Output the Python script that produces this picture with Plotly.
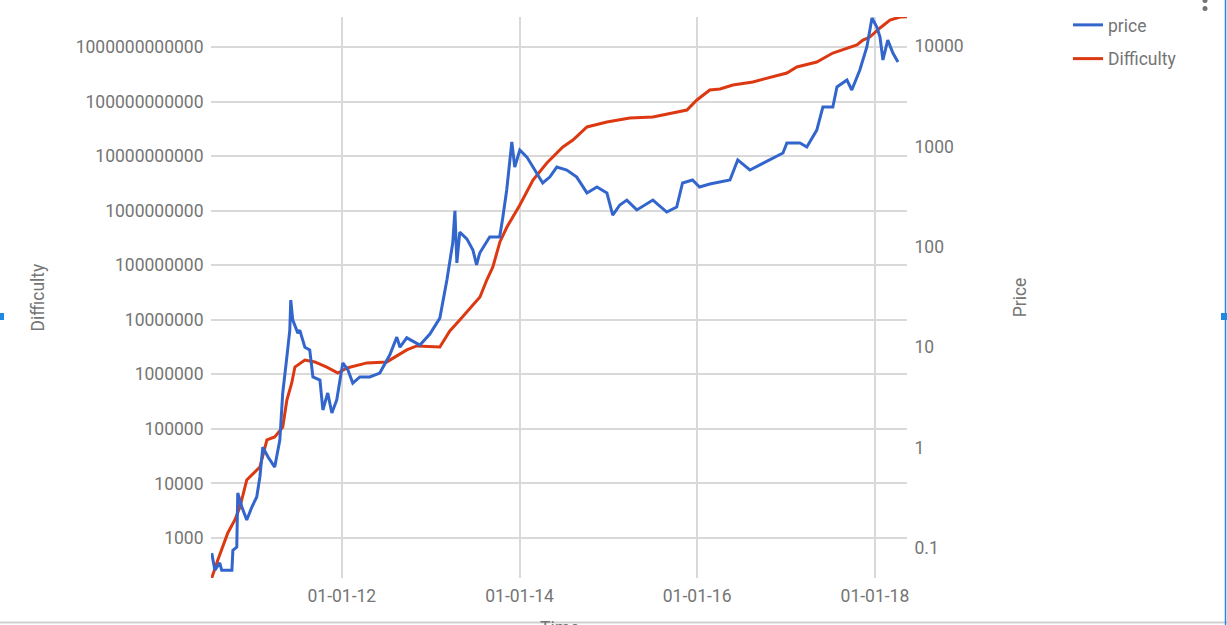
import plotly.graph_objects as go

# ---------------- data ----------------
price_dates = [
    "2010-07-15", "2010-07-28", "2010-08-17", "2010-08-25", "2010-10-06", "2010-10-10",
    "2010-10-26", "2010-10-30", "2010-11-16", "2010-12-06", "2010-12-27", "2011-01-16",
    "2011-01-29", "2011-02-10", "2011-03-03", "2011-03-31", "2011-04-21", "2011-05-03",
    "2011-05-20", "2011-06-01", "2011-06-05", "2011-06-13", "2011-07-04", "2011-07-12",
    "2011-08-02", "2011-08-22", "2011-09-04", "2011-10-03", "2011-10-15", "2011-11-04",
    "2011-11-21", "2011-12-11", "2012-01-05", "2012-01-26", "2012-02-15", "2012-03-15",
    "2012-04-25", "2012-06-05", "2012-07-16", "2012-08-14", "2012-08-27", "2012-09-24",
    "2012-11-17", "2012-12-28", "2013-02-07", "2013-03-08", "2013-04-01", "2013-04-10",
    "2013-04-18", "2013-04-30", "2013-05-29", "2013-06-23", "2013-07-08", "2013-07-21",
    "2013-08-31", "2013-10-11", "2013-10-23", "2013-11-09", "2013-11-30", "2013-12-12",
    "2014-01-02", "2014-01-31", "2014-02-25", "2014-04-06", "2014-05-05", "2014-06-03",
    "2014-07-14", "2014-08-24", "2014-10-05", "2014-11-15", "2014-12-26", "2015-01-19",
    "2015-02-17", "2015-03-18", "2015-04-28", "2015-07-03", "2015-08-29", "2015-10-09",
    "2015-11-02", "2015-12-13", "2016-01-11", "2016-02-22", "2016-05-15", "2016-06-16",
    "2016-08-05", "2016-10-26", "2016-12-19", "2017-01-04", "2017-02-27", "2017-03-27",
    "2017-05-07", "2017-06-01", "2017-07-12", "2017-07-29", "2017-09-08", "2017-09-28",
    "2017-10-31", "2017-11-29", "2017-12-11", "2017-12-20", "2018-01-09", "2018-01-22",
    "2018-02-03", "2018-02-23", "2018-03-16", "2018-04-06",
]
price_values = [
    0.089, 0.060, 0.071, 0.060, 0.060, 0.095,
    0.102, 0.353, 0.256, 0.19, 0.256, 0.322,
    0.51, 1.01, 0.81, 0.64, 1.19, 3.5,
    8.0, 14.8, 29.5, 18.7, 13.8, 14.8,
    10.0, 9.4, 5.05, 4.7, 2.37, 3.5,
    2.21, 2.98, 6.97, 5.93, 4.39, 5.05,
    5.05, 5.53, 8.36, 12.6, 10.0, 12.4,
    10.5, 13.5, 19.5, 46.7, 109, 228,
    69, 140, 120, 93, 66, 86.7,
    125, 125, 189, 368, 1107, 623,
    920, 783, 623, 432, 495, 623,
    582, 495, 344, 394, 344, 207,
    261, 292, 233, 292, 222, 249,
    432, 463, 394, 422, 463, 733,
    582, 733, 859, 1081, 1081, 986,
    1455, 2466, 2466, 3908, 4585, 3645,
    5770, 9775, 14430, 19000, 15460, 12300,
    7260, 11480, 8515, 6926,
]

difficulty_dates = [
    "2010-07-15", "2010-08-09", "2010-09-19", "2010-10-18", "2010-11-08", "2010-12-06",
    "2011-01-29", "2011-02-27", "2011-03-31", "2011-05-03", "2011-05-20", "2011-06-09",
    "2011-06-22", "2011-08-02", "2011-09-12", "2011-10-31", "2011-12-16", "2012-01-22",
    "2012-04-13", "2012-07-04", "2012-09-24", "2012-11-04", "2013-02-07", "2013-03-20",
    "2013-04-30", "2013-06-10", "2013-07-22", "2013-08-19", "2013-09-13", "2013-10-12",
    "2013-11-10", "2014-01-02", "2014-02-25", "2014-04-23", "2014-06-28", "2014-08-08",
    "2014-10-05", "2014-12-26", "2015-03-30", "2015-07-03", "2015-09-23", "2015-11-20",
    "2015-12-31", "2016-02-22", "2016-04-04", "2016-05-27", "2016-08-17", "2016-10-14",
    "2017-01-04", "2017-02-14", "2017-05-07", "2017-07-12", "2017-09-08", "2017-10-19",
    "2017-11-13", "2017-12-11", "2018-01-22", "2018-03-04", "2018-04-14", "2018-05-13",
]
difficulty_values = [
    185, 396, 1240, 2140, 3700, 11600,
    20000, 62700, 71100, 108000, 339000, 695000,
    1.36e6, 1.83e6, 1.69e6, 1.36e6, 1.06e6, 1.31e6,
    1.62e6, 1.69e6, 2.80e6, 3.31e6, 3.18e6, 6.24e6,
    9.9e6, 1.64e7, 2.62e7, 5.36e7, 9.29e7, 2.67e8,
    5.02e8, 1.27e9, 3.65e9, 7.48e9, 1.47e10, 1.97e10,
    3.42e10, 4.22e10, 5.00e10, 5.21e10, 6.17e10, 7.00e10,
    1.07e11, 1.63e11, 1.70e11, 2.01e11, 2.29e11, 2.70e11,
    3.33e11, 4.30e11, 5.31e11, 7.76e11, 9.59e11, 1.09e12,
    1.34e12, 1.52e12, 2.23e12, 3.12e12, 3.55e12, 3.60e12,
]

diff_tick_vals = [1e3, 1e4, 1e5, 1e6, 1e7, 1e8, 1e9, 1e10, 1e11, 1e12]
diff_tick_text = ["1000", "10000", "100000", "1000000", "10000000", "100000000",
                  "1000000000", "10000000000", "100000000000", "1000000000000"]
price_tick_vals = [0.1, 1, 10, 100, 1000, 10000]
price_tick_text = ["0.1", "1", "10", "100", "1000", "10000"]
x_tick_dates = ["2012-01-01", "2014-01-01", "2016-01-01", "2018-01-01"]
x_tick_text = ["01-01-12", "01-01-14", "01-01-16", "01-01-18"]

# ---------------- layout geometry (screen pixels) ----------------
W, H = 1227, 625
PL, PR, PT, PB = 211, 907, 17, 578
GRAY = "#757575"
GRID = "#d9d9d9"
FONT = "Roboto"


def px(x):
    return (x - PL) / (PR - PL)


def py(y):
    return (PB - y) / (PB - PT)


fig = go.Figure()
fig.add_trace(go.Scatter(
    x=price_dates, y=price_values, name="price", yaxis="y2",
    mode="lines", line=dict(color="#3366cc", width=3),
    legendgroup="a",
))
fig.add_trace(go.Scatter(
    x=difficulty_dates, y=difficulty_values, name="Difficulty", yaxis="y",
    mode="lines", line=dict(color="#dc3912", width=3),
    legendgroup="b",
))

fig.update_layout(
    width=W, height=H,
    margin=dict(l=PL, r=W - PR, t=PT, b=H - PB, pad=0, autoexpand=False),
    paper_bgcolor="white", plot_bgcolor="white",
    font=dict(family=FONT, size=17.5, color=GRAY),
    showlegend=True,
    legend=dict(x=px(1068), y=py(7), xanchor="left", yanchor="top",
                font=dict(size=17.5, color=GRAY), tracegroupgap=8,
                traceorder="grouped", bgcolor="rgba(0,0,0,0)"),
    xaxis=dict(
        type="date", range=["2010-07-12", "2018-05-13"],
        tickmode="array", tickvals=x_tick_dates, ticktext=x_tick_text,
        showgrid=True, gridcolor=GRID, gridwidth=1.5,
        zeroline=False, showline=False,
        ticks="outside", ticklen=2, tickcolor="rgba(0,0,0,0)",
    ),
    yaxis=dict(
        type="log", range=[2.267, 12.55],
        tickmode="array", tickvals=diff_tick_vals, ticktext=diff_tick_text,
        showgrid=True, gridcolor=GRID, gridwidth=1.5,
        zeroline=False, showline=False,
        ticks="outside", ticklen=3, tickcolor="rgba(0,0,0,0)",
        title=dict(text="Difficulty", font=dict(size=17.5, color=GRAY), standoff=26),
    ),
    yaxis2=dict(
        type="log", range=[-1.299, 4.289], overlaying="y", side="right",
        tickmode="array", tickvals=price_tick_vals, ticktext=price_tick_text,
        showgrid=False, zeroline=False, showline=False,
        ticks="outside", ticklen=3, tickcolor="rgba(0,0,0,0)",
        title=dict(text="Price", font=dict(size=17.5, color=GRAY), standoff=51),
    ),
    annotations=[
        # x-axis title, partly below the visible window as in the reference
        dict(text="Time", xref="paper", yref="paper", x=0.5, y=py(616),
             xanchor="center", yanchor="top", showarrow=False,
             font=dict(size=17.5, color=GRAY)),
    ],
    shapes=[
        # screen frame details
        dict(type="line", xref="paper", yref="paper", x0=px(0), x1=px(W),
             y0=py(622.5), y1=py(622.5), line=dict(color="#d0d0d0", width=2)),
        dict(type="line", xref="paper", yref="paper", x0=px(1225.5), x1=px(1225.5),
             y0=py(0), y1=py(H), line=dict(color="#1e88e5", width=1.5)),
        dict(type="rect", xref="paper", yref="paper", x0=px(0), x1=px(4),
             y0=py(320), y1=py(313), fillcolor="#1e88e5", line=dict(width=0)),
        dict(type="rect", xref="paper", yref="paper", x0=px(1221), x1=px(1227),
             y0=py(320), y1=py(313), fillcolor="#1e88e5", line=dict(width=0)),
        dict(type="circle", xref="paper", yref="paper", x0=px(1202.5), x1=px(1207.5),
             y0=py(11), y1=py(6), fillcolor="#757575", line=dict(width=0)),
        dict(type="circle", xref="paper", yref="paper", x0=px(1202.5), x1=px(1207.5),
             y0=py(3), y1=py(-2), fillcolor="#757575", line=dict(width=0)),
    ],
)

fig.write_html(
    "out.html",
    config={"displayModeBar": False},
    post_script="document.body.style.margin='0';document.body.style.overflow='hidden';",
)
